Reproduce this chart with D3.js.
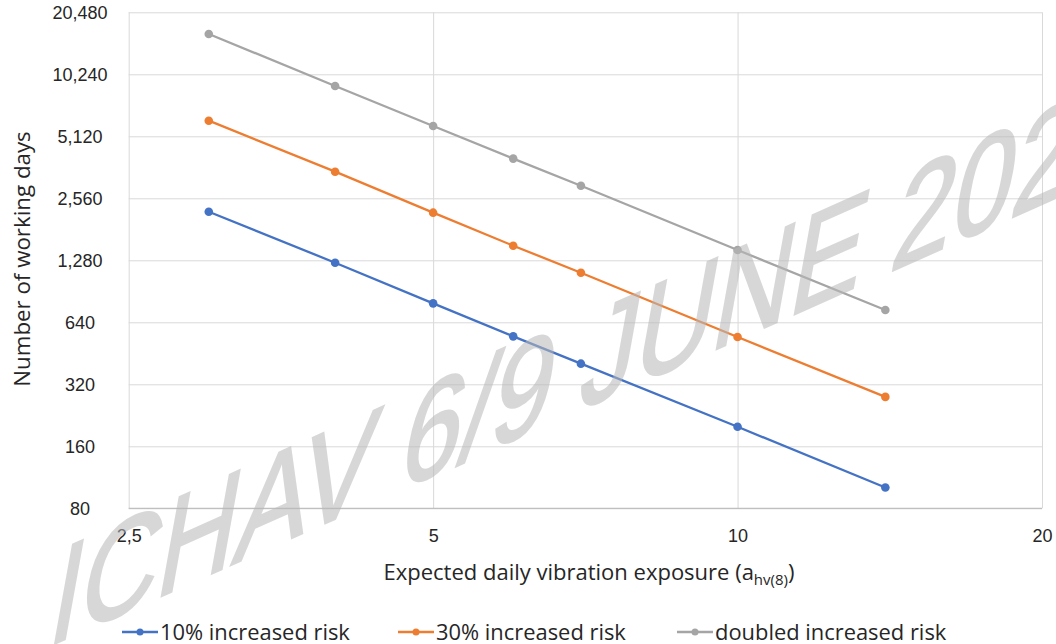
<!DOCTYPE html>
<html>
<head>
<meta charset="utf-8">
<script src="https://cdnjs.cloudflare.com/ajax/libs/d3/7.8.5/d3.min.js"></script>
<style>
  body { margin: 0; background: #fff; }
  svg { display: block; font-family: 'Open Sans', sans-serif; }
</style>
</head>
<body>
<svg id="chart" width="1056" height="644"></svg>
<script>
// values
var exposure = [3, 4, 5, 6, 7, 10, 14];
var risk10 = [2204, 1246, 791, 547, 403, 199, 101];
var risk30 = [6097, 3447, 2180, 1507, 1114, 543, 278];
var riskDoubled = [16070, 8984, 5744, 3990, 2946, 1436, 734];

var seriesNames = ['10% increased risk', '30% increased risk', 'doubled increased risk'];
var seriesColors = ['#4472C4', '#ED7D31', '#A5A5A5'];

var xTicks = [2.5, 5, 10, 20];
var xTickLabels = ['2,5', '5', '10', '20'];
var yTicks = [80, 160, 320, 640, 1280, 2560, 5120, 10240, 20480];
var yTickLabels = ['80', '160', '320', '640', '1,280', '2,560', '5,120', '10,240', '20,480'];

var svg;
var width = 1056;
var height = 644;
var margin = { top: 12.3, right: 14, bottom: 135.7, left: 128.7 };
var innerWidth = width - margin.left - margin.right;
var innerHeight = height - margin.top - margin.bottom;
var xscale;
var yscale;

document.addEventListener('DOMContentLoaded', function() {
  svg = d3.select('#chart');
  drawChart();
});

function drawChart() {
  xscale = d3.scaleLog().base(2)
    .domain([2.5, 20])
    .range([0, innerWidth]);
  yscale = d3.scaleLog().base(2)
    .domain([80, 20480])
    .range([innerHeight, 0]);

  let g = svg.append('g')
    .attr('transform', `translate(${margin.left},${margin.top})`);

  // vertical grid + x labels
  let xAxis = g.append('g')
    .attr('class', 'x-axis')
    .attr('transform', `translate(0,${innerHeight})`)
    .call(d3.axisBottom(xscale)
      .tickValues(xTicks)
      .tickFormat((d, i) => xTickLabels[i])
      .tickSize(-innerHeight)
      .tickPadding(21));
  xAxis.select('.domain').remove();
  xAxis.selectAll('line').attr('stroke', '#d9d9d9').attr('stroke-width', 1);
  xAxis.selectAll('text')
    .attr('fill', '#262626')
    .style('font-size', '18px');

  // horizontal grid + y labels
  let yAxis = g.append('g')
    .attr('class', 'y-axis')
    .call(d3.axisLeft(yscale)
      .tickValues(yTicks)
      .tickFormat((d, i) => yTickLabels[i])
      .tickSize(-innerWidth));
  yAxis.select('.domain').remove();
  yAxis.selectAll('line').attr('stroke', '#d9d9d9').attr('stroke-width', 1);
  yAxis.selectAll('text')
    .attr('fill', '#262626')
    .attr('text-anchor', 'middle')
    .attr('x', 80 - margin.left)
    .style('font-size', '18px');

  // bottom axis line
  g.append('line')
    .attr('x1', 0).attr('x2', innerWidth)
    .attr('y1', innerHeight).attr('y2', innerHeight)
    .attr('stroke', '#bfbfbf')
    .attr('stroke-width', 1.3);

  let series = [risk10, risk30, riskDoubled];
  let line = d3.line()
    .x((d, i) => xscale(exposure[i]))
    .y(d => yscale(d));

  series.forEach(function(vals, k) {
    g.append('path')
      .datum(vals)
      .attr('d', line)
      .attr('fill', 'none')
      .attr('stroke', seriesColors[k])
      .attr('stroke-width', 2.3);
    g.selectAll('.dot' + k)
      .data(vals)
      .enter()
      .append('circle')
      .attr('class', 'dot' + k)
      .attr('cx', (d, i) => xscale(exposure[i]))
      .attr('cy', d => yscale(d))
      .attr('r', 4.3)
      .attr('fill', seriesColors[k]);
  });

  // axis titles
  let xt = svg.append('text')
    .attr('x', 589)
    .attr('y', 580)
    .attr('text-anchor', 'middle')
    .attr('fill', '#262626')
    .style('font-size', '22px');
  xt.append('tspan').text('Expected daily vibration exposure (a');
  xt.append('tspan').text('hv(8)').attr('dy', 5).style('font-size', '15px');
  xt.append('tspan').text(')').attr('dy', -5);

  svg.append('text')
    .attr('transform', 'translate(30,259) rotate(-90)')
    .attr('text-anchor', 'middle')
    .attr('fill', '#262626')
    .style('font-size', '22.3px')
    .text('Number of working days');

  // legend
  let legendX = [122, 398, 677];
  let lg = svg.append('g').attr('class', 'legend');
  seriesNames.forEach(function(name, k) {
    let x0 = legendX[k];
    lg.append('line')
      .attr('x1', x0).attr('x2', x0 + 36)
      .attr('y1', 632).attr('y2', 632)
      .attr('stroke', seriesColors[k])
      .attr('stroke-width', 2.3);
    lg.append('circle')
      .attr('cx', x0 + 18).attr('cy', 632)
      .attr('r', 3.5)
      .attr('fill', seriesColors[k]);
    lg.append('text')
      .attr('x', x0 + 38)
      .attr('y', 639.5)
      .attr('fill', '#262626')
      .style('font-size', '21.9px')
      .text(name);
  });

  // watermark
  svg.append('g')
    .attr('opacity', 0.55)
    .append('text')
    .attr('transform', 'matrix(0.9135,-0.4067,-0.22,1.22,45,648)')
    .attr('fill', '#b8b8b8')
    .attr('stroke', '#b8b8b8')
    .attr('stroke-width', 2)
    .style('font-family', "'Liberation Sans', Arial, sans-serif")
    .style('font-size', '118px')
    .text('ICHAV 6/9 JUNE 2022');
}
</script>
</body>
</html>
